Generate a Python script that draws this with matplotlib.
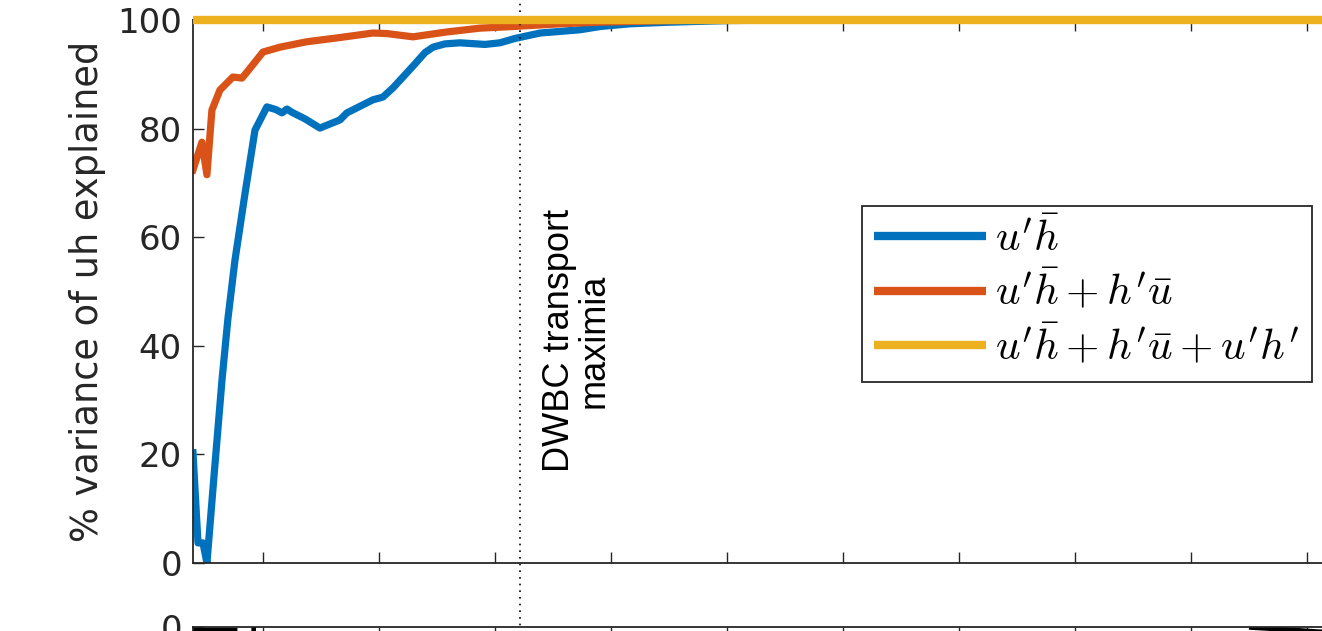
import matplotlib
matplotlib.use('Agg')
import matplotlib.pyplot as plt
import numpy as np

plt.rcParams['mathtext.fontset'] = 'cm'
plt.rcParams['font.family'] = 'DejaVu Sans'

# x positions in tick units (tick labels are cut off in the reference)
blue_x = [-0.603, -0.560, -0.517, -0.483, -0.422, -0.353, -0.302, -0.241, -0.155, -0.069,
          0.034, 0.112, 0.164, 0.207, 0.250, 0.362, 0.491, 0.664, 0.724, 0.948,
          1.034, 1.121, 1.207, 1.293, 1.397, 1.466, 1.569, 1.698, 1.914, 2.043,
          2.172, 2.388, 2.733, 2.905, 3.164, 3.509, 4.026, 4.629, 9.241]
blue_y = [20.3, 3.7, 3.7, 0.0, 16.0, 33.7, 45.0, 55.8, 68.0, 79.7,
          84.0, 83.5, 82.9, 83.6, 83.0, 81.8, 80.1, 81.6, 82.9, 85.3,
          85.8, 87.5, 89.5, 91.5, 94.0, 95.0, 95.6, 95.8, 95.5, 95.8,
          96.6, 97.6, 98.2, 98.8, 99.3, 99.6, 99.9, 100.0, 100.0]

orange_x = [-0.603, -0.526, -0.483, -0.44, -0.371, -0.259, -0.181, -0.138, 0.0, 0.147,
            0.379, 0.638, 0.948, 1.069, 1.293, 1.586, 1.871, 2.155, 2.56, 2.905, 3.336, 3.767, 9.241]
orange_y = [72.4, 77.5, 71.5, 83.4, 87.1, 89.5, 89.3, 90.4, 94.1, 95.0,
            96.0, 96.7, 97.6, 97.5, 96.9, 97.8, 98.5, 98.8, 99.3, 99.6, 99.8, 100.0, 100.0]

yellow_x = [-0.603, 9.241]
yellow_y = [100.0, 100.0]

labels = [r"$u'\bar{h}$", r"$u'\bar{h} + h'\bar{u}$", r"$u'\bar{h} + h'\bar{u} + u'h'$"]
colors = ['#0072BD', '#D95319', '#EDB120']

dwbc_x = 2.216

# lower panel (only its top edge is visible)
low_x = [-0.603, -0.22, -0.2, -0.1, -0.06, np.nan, 8.5, 8.8, 9.1, 9.4]
low_y = [-0.2, -0.2, np.nan, -0.1, -0.1, np.nan, -0.02, -0.15, -0.3, -0.35]

fig = plt.figure(figsize=(13.22, 6.31), dpi=100)
W, H = 1322.0, 631.0
ax = fig.add_axes([193 / W, 1 - 563 / H, (1335 - 193) / W, (563 - 20) / H])

ax.plot(blue_x, blue_y, color=colors[0], lw=5.2, label=labels[0], solid_joinstyle='round')
ax.plot(orange_x, orange_y, color=colors[1], lw=5.2, label=labels[1], solid_joinstyle='round')
ax.plot(yellow_x, yellow_y, color=colors[2], lw=6.0, label=labels[2], clip_on=False,
        solid_capstyle='butt', zorder=3)

ax.set_xlim(-0.603, (1335 - 263) / 116.0)
ax.set_ylim(0, 100)
ax.set_xticks(np.arange(0, 10))
ax.set_xticklabels([])
ax.set_yticks([0, 20, 40, 60, 80, 100])
ax.tick_params(direction='in', length=8, width=1.0, colors='#262626', labelsize=24.5,
               top=True, right=True, labelcolor='#262626', pad=8)
for s in ax.spines.values():
    s.set_color('#262626')
    s.set_linewidth(1.3)
ax.set_ylabel('% variance of uh explained', fontsize=26.5, color='#262626', labelpad=8)

ax.plot([dwbc_x, dwbc_x], [-13, 104], color='black', lw=1.2, ls=(0, (1, 3)), clip_on=False)
ax.text((577 - 263) / 116.0, 41, 'DWBC transport\nmaximia', rotation=90, ha='center', va='center',
        multialignment='center', fontsize=26, family='Liberation Sans', linespacing=1.0)

leg = ax.legend(loc='upper left', bbox_to_anchor=(862 / W, 1 - 206 / H), bbox_transform=fig.transFigure,
                fontsize=31, frameon=True, fancybox=False, framealpha=1, edgecolor='#262626',
                handlelength=2.6, handletextpad=0.22, borderpad=0.28, labelspacing=0.22,
                borderaxespad=0)
leg.get_frame().set_linewidth(1.3)
for h in leg.get_lines():
    h.set_linewidth(6)
    h.set_solid_capstyle('butt')

ax2 = fig.add_axes([193 / W, -0.5, (1335 - 193) / W, 0.5 + 1 - 627 / H])
ax2.plot(low_x, low_y, color='black', lw=3.5, solid_capstyle='butt')
ax2.set_xlim(ax.get_xlim())
ax2.set_ylim(-20, 0)
ax2.set_xticks(np.arange(0, 10))
ax2.set_xticklabels([])
ax2.set_yticks([0])
ax2.tick_params(direction='in', length=8, width=1.0, colors='#262626', labelsize=24.5,
                top=True, right=True, labelcolor='#262626', pad=8)
for s in ax2.spines.values():
    s.set_color('#262626')
    s.set_linewidth(1.3)

fig.savefig('out.png', dpi=100)
